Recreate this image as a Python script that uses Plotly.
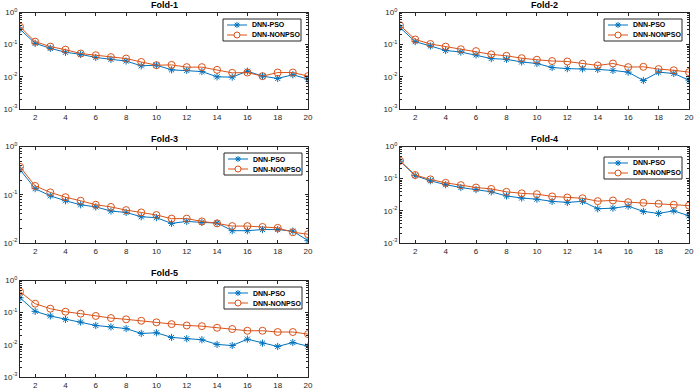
import plotly.graph_objects as go

epochs = list(range(1, 21))

fold1_pso = [0.30, 0.11, 0.077, 0.058, 0.050, 0.040, 0.035, 0.031, 0.022, 0.023,
             0.0165, 0.0158, 0.0146, 0.0100, 0.0098, 0.015, 0.0105, 0.0089, 0.0116, 0.0085]
fold1_nonpso = [0.36, 0.124, 0.087, 0.070, 0.053, 0.047, 0.041, 0.037, 0.029, 0.023,
                0.0235, 0.020, 0.020, 0.0165, 0.0133, 0.0136, 0.0105, 0.0136, 0.0136, 0.0105]

fold2_pso = [0.34, 0.124, 0.091, 0.066, 0.059, 0.048, 0.037, 0.035, 0.029, 0.026,
             0.0195, 0.018, 0.0177, 0.017, 0.0158, 0.014, 0.0077, 0.014, 0.0127, 0.0079]
fold2_nonpso = [0.40, 0.145, 0.105, 0.087, 0.072, 0.063, 0.050, 0.045, 0.038, 0.034,
                0.031, 0.030, 0.0255, 0.0226, 0.026, 0.020, 0.0205, 0.0174, 0.016, 0.014]

fold3_pso = [0.33, 0.134, 0.095, 0.075, 0.062, 0.056, 0.046, 0.043, 0.035, 0.0335,
             0.0255, 0.028, 0.0267, 0.026, 0.018, 0.018, 0.019, 0.019, 0.0176, 0.0112]
fold3_nonpso = [0.38, 0.152, 0.112, 0.089, 0.075, 0.062, 0.056, 0.048, 0.043, 0.038,
                0.032, 0.032, 0.028, 0.0255, 0.0224, 0.0224, 0.0215, 0.0206, 0.0167, 0.0152]

fold4_pso = [0.35, 0.124, 0.086, 0.065, 0.053, 0.046, 0.039, 0.029, 0.025, 0.023,
             0.0197, 0.0183, 0.0197, 0.0116, 0.0121, 0.014, 0.0096, 0.0083, 0.010, 0.0070]
fold4_nonpso = [0.36, 0.13, 0.095, 0.074, 0.063, 0.053, 0.048, 0.039, 0.035, 0.033,
                0.028, 0.026, 0.0246, 0.020, 0.021, 0.0186, 0.0178, 0.0166, 0.0155, 0.0145]

fold5_pso = [0.29, 0.11, 0.079, 0.062, 0.051, 0.040, 0.036, 0.032, 0.0226, 0.0237,
             0.017, 0.0155, 0.0144, 0.0103, 0.0095, 0.015, 0.0113, 0.0089, 0.0118, 0.0091]
fold5_nonpso = [0.45, 0.19, 0.133, 0.107, 0.093, 0.079, 0.068, 0.062, 0.056, 0.050,
                0.044, 0.040, 0.038, 0.034, 0.031, 0.0274, 0.0274, 0.025, 0.025, 0.0216]

titles = ["Fold-1", "Fold-2", "Fold-3", "Fold-4", "Fold-5"]
series_names = ["DNN-PSO", "DNN-NONPSO"]
x_ticks = [2, 4, 6, 8, 10, 12, 14, 16, 18, 20]
y_ranges = [(-3, 0), (-3, 0), (-2, 0), (-3, 0), (-3, 0)]

data = [(fold1_pso, fold1_nonpso), (fold2_pso, fold2_nonpso), (fold3_pso, fold3_nonpso),
        (fold4_pso, fold4_nonpso), (fold5_pso, fold5_nonpso)]

W, H = 696, 391
# axes pixel boxes: (left, right, top, bottom)
boxes = [(20, 308, 12.5, 109), (400, 689, 12.5, 109),
         (20, 308, 146.5, 243), (400, 689, 146.5, 243),
         (20, 308, 280.5, 377)]
legend_pos = [(223, 19), (604, 19), (224, 153), (604, 157), (224, 287)]

BLUE = "#0072BD"
ORANGE = "#D95319"
AXC = "#262626"
FONT = "Liberation Sans, Arial, sans-serif"


def px(x):
    return x / W


def py(y):
    return 1 - y / H


fig = go.Figure()
layout = {}
annotations = []
shapes = []
for i in range(5):
    n = i + 1
    xa = "x" if n == 1 else f"x{n}"
    ya = "y" if n == 1 else f"y{n}"
    pso, non = data[i]
    fig.add_trace(go.Scatter(
        x=epochs, y=pso, name=series_names[0], mode="lines+markers",
        line=dict(color=BLUE, width=1),
        marker=dict(symbol="asterisk-open", size=6, color=BLUE, line=dict(color=BLUE, width=1)),
        xaxis=xa, yaxis=ya, showlegend=False))
    fig.add_trace(go.Scatter(
        x=epochs, y=non, name=series_names[1], mode="lines+markers",
        line=dict(color=ORANGE, width=1),
        marker=dict(symbol="circle-open", size=7, color=ORANGE, line=dict(color=ORANGE, width=1)),
        xaxis=xa, yaxis=ya, showlegend=False))
    l, r, t, b = boxes[i]
    lo, hi = y_ranges[i]
    tv = [10 ** k for k in range(lo, hi + 1)]
    tt = [f"10<sup>{k}</sup>" for k in range(lo, hi + 1)]
    layout["xaxis" if n == 1 else f"xaxis{n}"] = dict(
        domain=[px(l), px(r)], anchor=ya, range=[1, 20], automargin=False,
        tickvals=x_ticks, ticks="inside", ticklen=3, tickcolor=AXC,
        showline=True, linecolor=AXC, linewidth=1, mirror="ticks",
        showgrid=False, zeroline=False,
        tickfont=dict(family=FONT, size=8, color=AXC))
    layout["yaxis" if n == 1 else f"yaxis{n}"] = dict(
        domain=[py(b), py(t)], anchor=xa, type="log", range=[lo, hi], automargin=False,
        tickvals=tv, ticktext=tt, ticks="inside", ticklen=3, tickcolor=AXC,
        minor=dict(ticks="inside", ticklen=2, tickcolor=AXC, dtick="D1"),
        showline=True, linecolor=AXC, linewidth=1, mirror="ticks",
        showgrid=False, zeroline=False,
        tickfont=dict(family=FONT, size=8, color=AXC))
    annotations.append(dict(
        text=f"<b>{titles[i]}</b>", x=px((l + r) / 2), y=py(t - 1),
        xref="paper", yref="paper", xanchor="center", yanchor="bottom",
        showarrow=False, font=dict(family=FONT, size=9, color="black")))

    # legend box (layout decoration)
    lx, ly = legend_pos[i]
    lw, lh = 78, 22
    shapes.append(dict(type="rect", xref="paper", yref="paper",
                       x0=px(lx), x1=px(lx + lw), y0=py(ly + lh), y1=py(ly),
                       line=dict(color=AXC, width=1), fillcolor="white", layer="above"))
    rows = [(ly + 6, BLUE, series_names[0], "star"), (ly + 16, ORANGE, series_names[1], "circle")]
    for (ry, col, name, kind) in rows:
        shapes.append(dict(type="line", xref="paper", yref="paper",
                           x0=px(lx + 4), x1=px(lx + 24), y0=py(ry), y1=py(ry),
                           line=dict(color=col, width=1), layer="above"))
        cx = lx + 14
        if kind == "circle":
            shapes.append(dict(type="circle", xref="paper", yref="paper",
                               x0=px(cx - 3), x1=px(cx + 3), y0=py(ry + 3), y1=py(ry - 3),
                               line=dict(color=col, width=1), fillcolor="white", layer="above"))
        else:
            for (dx, dy) in [(0, 3), (3, 0), (2.2, 2.2), (2.2, -2.2)]:
                shapes.append(dict(type="line", xref="paper", yref="paper",
                                   x0=px(cx - dx), x1=px(cx + dx), y0=py(ry - dy), y1=py(ry + dy),
                                   line=dict(color=col, width=1), layer="above"))
        annotations.append(dict(
            text=f"<b>{name}</b>", x=px(lx + 27), y=py(ry),
            xref="paper", yref="paper", xanchor="left", yanchor="middle",
            showarrow=False, font=dict(family=FONT, size=7, color="black")))

fig.update_layout(
    width=W, height=H, margin=dict(l=0, r=0, t=0, b=0),
    paper_bgcolor="white", plot_bgcolor="white", hovermode=False,
    showlegend=False, annotations=annotations, shapes=shapes, **layout)

fig.write_html(
    "out.html",
    config={"displayModeBar": False, "staticPlot": True},
    post_script="document.body.style.margin='0';document.body.style.overflow='hidden';")
